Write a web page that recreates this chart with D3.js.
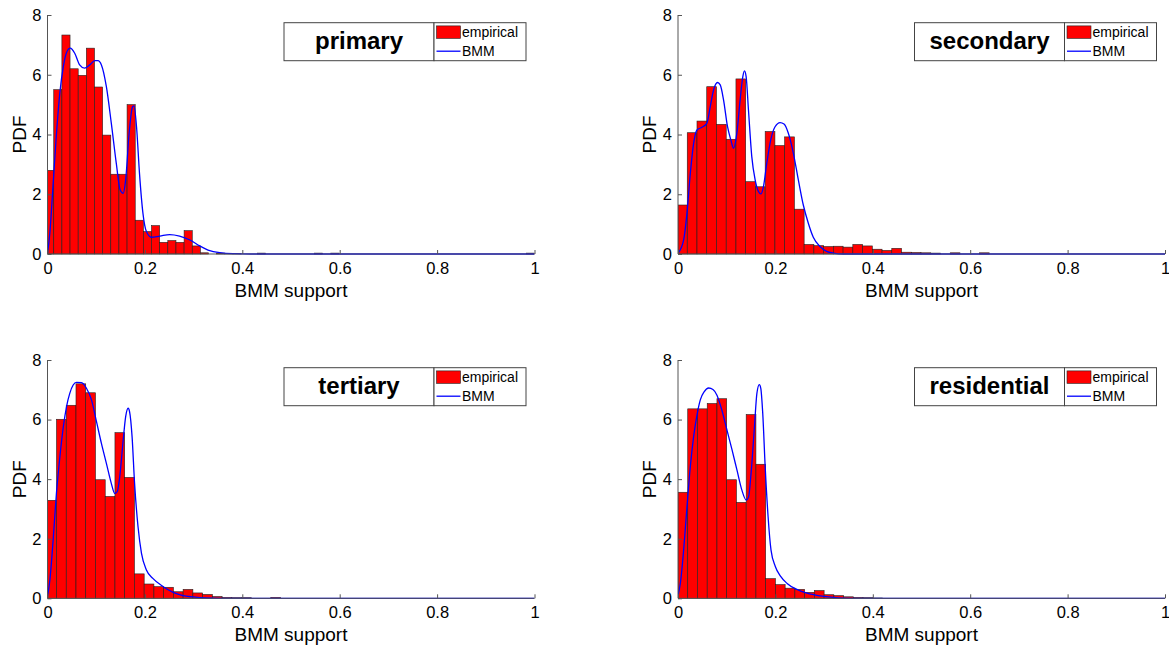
<!DOCTYPE html>
<html>
<head>
<meta charset="utf-8">
<script src="https://cdn.jsdelivr.net/npm/d3@7"></script>
<style>
  body { margin: 0; background: #fff; }
  svg { display: block; font-family: "Liberation Sans", Arial, sans-serif; }
</style>
</head>
<body>
<script>
// panel names, in reading order
var panelNames = ["primary", "secondary", "tertiary", "residential"];

// histogram bins: first edge and width (data units)
var binStart = [-0.0039, -0.001, -0.0015, 0];
var binWidth = [0.01673, 0.02, 0.02, 0.02];

// empirical PDF heights, one per bin
var primaryHist = [2.8, 5.5, 7.33, 6.2, 5.98, 6.89, 5.59, 3.98, 2.67, 2.67,
    5.0, 1.13, 0.75, 0.95, 0.39, 0.45, 0.39, 0.78, 0.27, 0.04,
    0, 0.03, 0.02, 0.01, 0, 0, 0.03, 0, 0, 0,
    0, 0, 0, 0.03, 0, 0.03, 0, 0, 0, 0,
    0, 0, 0, 0, 0, 0, 0, 0, 0, 0,
    0, 0, 0, 0, 0, 0, 0, 0, 0, 0.03];
var secondaryHist = [1.64, 4.06, 4.45, 5.6, 4.34, 3.84, 5.86, 2.42, 2.25, 4.1,
    3.63, 3.92, 1.5, 0.32, 0.28, 0.25, 0.26, 0.23, 0.32, 0.27,
    0.16, 0.12, 0.19, 0.06, 0.05, 0.04, 0.03, 0, 0.04, 0,
    0, 0.04, 0, 0, 0, 0, 0, 0, 0, 0,
    0, 0, 0, 0, 0, 0, 0, 0, 0, 0];
var tertiaryHist = [3.29, 6.01, 6.48, 7.2, 6.9, 3.98, 3.42, 5.56, 4.06, 0.82,
    0.48, 0.39, 0.37, 0.22, 0.3, 0.18, 0.13, 0.06, 0.03, 0.02,
    0.02, 0, 0, 0.03, 0, 0, 0, 0, 0, 0,
    0, 0, 0, 0, 0, 0, 0, 0, 0, 0,
    0, 0, 0, 0, 0, 0, 0, 0, 0, 0];
var residentialHist = [3.56, 6.36, 6.36, 6.54, 6.7, 3.98, 3.22, 6.17, 4.5, 0.66,
    0.46, 0.34, 0.3, 0.2, 0.26, 0.12, 0.09, 0.05, 0.03, 0.02,
    0.01, 0, 0, 0, 0, 0, 0, 0, 0, 0,
    0, 0, 0, 0, 0, 0, 0, 0, 0, 0,
    0, 0, 0, 0, 0, 0, 0, 0, 0, 0];

// fitted BMM density, [support, pdf]
var primaryBMM = [[0, 0.02], [0.0048, 0.7], [0.0112, 2.25], [0.0183, 4.0], [0.0254, 5.4],
    [0.0325, 6.27], [0.0386, 6.72], [0.0467, 6.89], [0.0559, 6.72], [0.066, 6.33],
    [0.0762, 6.22], [0.0868, 6.33], [0.0971, 6.47], [0.1036, 6.47], [0.1107, 6.33],
    [0.1209, 5.6], [0.131, 4.38], [0.1412, 3.04], [0.1493, 2.14], [0.1554, 2.03],
    [0.1605, 2.48], [0.1676, 4.04], [0.1747, 4.93], [0.1777, 4.96], [0.1828, 4.26],
    [0.1889, 2.7], [0.196, 1.36], [0.2031, 0.75], [0.2133, 0.56], [0.2306, 0.6],
    [0.2509, 0.65], [0.2712, 0.6], [0.2925, 0.47], [0.3128, 0.27], [0.3332, 0.11],
    [0.3535, 0.045], [0.3809, 0.01], [0.4164, 0], [1, 0]];
var secondaryBMM = [[0, 0.02], [0.0116, 0.47], [0.0184, 1.36], [0.0253, 2.7], [0.0321, 3.7],
    [0.0389, 4.15], [0.0491, 4.24], [0.0594, 4.38], [0.0662, 4.93], [0.073, 5.49],
    [0.0812, 5.74], [0.0867, 5.66], [0.0935, 5.16], [0.1017, 4.26], [0.1085, 3.82],
    [0.114, 3.54], [0.1208, 4.04], [0.1276, 5.16], [0.1331, 5.94], [0.1365, 6.13],
    [0.1399, 5.94], [0.1447, 4.82], [0.1515, 3.26], [0.1584, 2.48], [0.1652, 2.09],
    [0.17, 2.01], [0.1754, 2.25], [0.1823, 3.04], [0.1904, 3.82], [0.1993, 4.26],
    [0.2096, 4.4], [0.2177, 4.35], [0.2266, 4.04], [0.2369, 3.37], [0.2471, 2.48],
    [0.2573, 1.64], [0.2676, 1.03], [0.2778, 0.56], [0.2915, 0.25], [0.3052, 0.09],
    [0.3188, 0.03], [0.3392, 0], [1, 0]];
var tertiaryBMM = [[0, 0.06], [0.0048, 0.6], [0.0116, 1.96], [0.0183, 3.52], [0.0254, 4.75],
    [0.0325, 5.76], [0.039, 6.43], [0.0457, 6.88], [0.0527, 7.16], [0.0595, 7.25],
    [0.0698, 7.24], [0.08, 7.05], [0.0903, 6.66], [0.1006, 5.93], [0.1107, 5.2],
    [0.1209, 4.53], [0.131, 3.86], [0.1381, 3.52], [0.1432, 3.58], [0.1483, 4.08],
    [0.1554, 5.31], [0.1605, 6.1], [0.1656, 6.38], [0.1686, 6.26], [0.1737, 5.42],
    [0.1788, 3.86], [0.1859, 2.4], [0.193, 1.51], [0.2031, 0.95], [0.2163, 0.67],
    [0.2377, 0.39], [0.258, 0.2], [0.2783, 0.09], [0.2986, 0.045], [0.326, 0.01],
    [0.3535, 0], [1, 0]];
var residentialBMM = [[0, 0.11], [0.0048, 0.5], [0.0116, 1.62], [0.0185, 3.08], [0.0253, 4.42],
    [0.032, 5.42], [0.039, 6.15], [0.0458, 6.66], [0.054, 6.94], [0.063, 7.06],
    [0.0718, 7.01], [0.08, 6.82], [0.09, 6.32], [0.1005, 5.65], [0.111, 4.98],
    [0.121, 4.31], [0.131, 3.64], [0.14, 3.3], [0.145, 3.41], [0.15, 4.19],
    [0.157, 5.76], [0.162, 6.88], [0.167, 7.17], [0.170, 7.05], [0.174, 6.21],
    [0.179, 4.42], [0.185, 2.74], [0.191, 1.62], [0.2, 1.06], [0.21, 0.75],
    [0.224, 0.5], [0.244, 0.3], [0.265, 0.17], [0.292, 0.08], [0.319, 0.03],
    [0.354, 0], [1, 0]];

var histData = [primaryHist, secondaryHist, tertiaryHist, residentialHist];
var bmmData = [primaryBMM, secondaryBMM, tertiaryBMM, residentialBMM];

// axis ticks
var xTicks = [0, 0.2, 0.4, 0.6, 0.8, 1];
var yTicks = [0, 2, 4, 6, 8];
var xLabel = "BMM support", yLabel = "PDF";
var legendLabels = ["empirical", "BMM"];

var width = 1169, height = 651;
var plotW = 487;
// axes origins [left, top, plot height]
var frames = [[47.5, 15, 239], [678, 15, 239], [47.5, 360, 238.3], [678, 360, 238.3]];

var svg = d3.select("body").append("svg")
    .attr("width", width)
    .attr("height", height);

frames.forEach(function (f, i) {
    var plotH = f[2];
    var g = svg.append("g").attr("transform", "translate(" + f[0] + "," + f[1] + ")");

    var x = d3.scaleLinear().domain([0, 1]).range([0, plotW]);
    var y = d3.scaleLinear().domain([0, 8]).range([plotH, 0]);

    g.append("clipPath").attr("id", "clip" + i)
        .append("rect").attr("width", plotW).attr("height", plotH + 1);

    var plot = g.append("g").attr("clip-path", "url(#clip" + i + ")");

    var bins = histData[i].map(function (h, k) {
        var x0 = binStart[i] + k * binWidth[i];
        return { x0: Math.max(0, x0), x1: x0 + binWidth[i], h: h };
    });

    plot.selectAll("rect.bar")
        .data(bins)
        .enter()
        .append("rect")
        .attr("class", "bar")
        .attr("x", function (d) { return x(d.x0); })
        .attr("width", function (d) { return x(d.x1) - x(d.x0); })
        .attr("y", function (d) { return y(d.h); })
        .attr("height", function (d) { return y(0) - y(d.h); })
        .attr("fill", "#ff0000")
        .attr("stroke", "#222")
        .attr("stroke-width", 0.6);

    // axes (MATLAB style: inward ticks, no box)
    var xAxis = d3.axisBottom(x).tickValues(xTicks).tickSize(-4).tickPadding(8)
        .tickFormat(function (d) { return d === 0 || d === 1 ? d : d3.format(".1f")(d); });
    var yAxis = d3.axisLeft(y).tickValues(yTicks).tickSize(-4).tickPadding(6);

    var gx = g.append("g").attr("transform", "translate(0," + plotH + ")").call(xAxis);
    var gy = g.append("g").call(yAxis);
    [gx, gy].forEach(function (a) {
        a.select(".domain").attr("stroke", "#555").attr("stroke-width", 1);
        a.selectAll(".tick line").attr("stroke", "#555");
        a.selectAll(".tick text").attr("font-size", 16.5).attr("fill", "#000")
            .attr("font-family", "Liberation Sans, Arial, sans-serif");
    });
    gx.select(".domain").attr("d", "M0,0H" + plotW);
    gy.select(".domain").attr("d", "M0," + plotH + "V0");

    var line = d3.line()
        .x(function (d) { return x(d[0]); })
        .y(function (d) { return y(d[1]); })
        .curve(d3.curveMonotoneX);

    plot.append("path")
        .datum(bmmData[i])
        .attr("d", line)
        .attr("fill", "none")
        .attr("stroke", "#0000ff")
        .attr("stroke-width", 1.3);

    g.append("text")
        .attr("x", plotW / 2)
        .attr("y", plotH + 43)
        .attr("text-anchor", "middle")
        .attr("font-size", 19)
        .text(xLabel);

    g.append("text")
        .attr("transform", "translate(-22," + (plotH / 2) + ")rotate(-90)")
        .attr("text-anchor", "middle")
        .attr("font-size", 19)
        .text(yLabel);

    // title box and legend
    var bx = 236.5, by = 7.7, bh = 38, tw = 150, lw = 92;
    g.append("rect").attr("x", bx).attr("y", by).attr("width", tw).attr("height", bh)
        .attr("fill", "#fff").attr("stroke", "#444").attr("stroke-width", 1);
    g.append("text").attr("x", bx + tw / 2).attr("y", by + 26)
        .attr("text-anchor", "middle").attr("font-size", 24).attr("font-weight", "bold")
        .text(panelNames[i]);

    var lx = bx + tw;
    g.append("rect").attr("x", lx).attr("y", by).attr("width", lw).attr("height", bh)
        .attr("fill", "#fff").attr("stroke", "#444").attr("stroke-width", 1);
    g.append("rect").attr("x", lx + 2.5).attr("y", by + 3.2).attr("width", 24).attr("height", 12.5)
        .attr("fill", "#ff0000").attr("stroke", "#222").attr("stroke-width", 0.6);
    g.append("line").attr("x1", lx + 2.5).attr("x2", lx + 26.5)
        .attr("y1", by + 28.5).attr("y2", by + 28.5)
        .attr("stroke", "#0000ff").attr("stroke-width", 1.3);
    g.append("text").attr("x", lx + 28).attr("y", by + 14.5).attr("font-size", 14)
        .text(legendLabels[0]);
    g.append("text").attr("x", lx + 28).attr("y", by + 33).attr("font-size", 14)
        .text(legendLabels[1]);
});
</script>
</body>
</html>
